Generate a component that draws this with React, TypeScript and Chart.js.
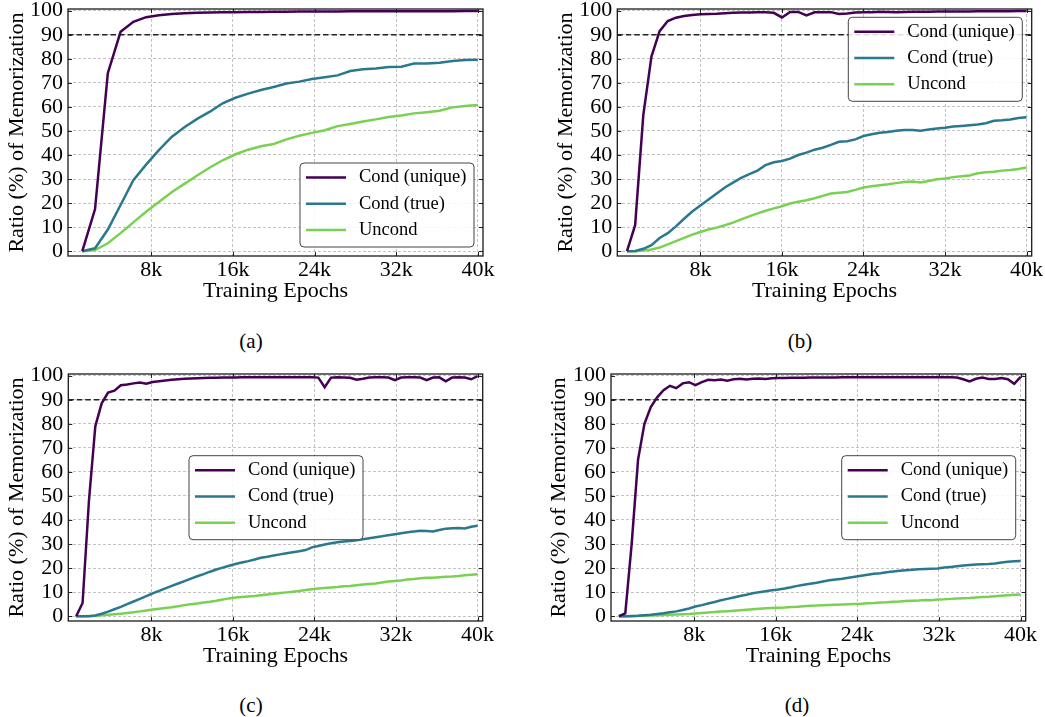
import React, { useEffect, useRef } from 'react';
import { Chart, registerables } from 'chart.js';

Chart.register(...registerables);

const FONT = "'Liberation Serif', 'Times New Roman', serif";

const SERIES_LABELS = ['Cond (unique)', 'Cond (true)', 'Uncond'];
const SERIES_COLORS = ['#440154', '#2a788e', '#7ad151'];

const X_TICKS = [8000, 16000, 24000, 32000, 40000];
const X_TICK_LABELS = ['8k', '16k', '24k', '32k', '40k'];
const Y_TICKS = [0, 10, 20, 30, 40, 50, 60, 70, 80, 90, 100];
const THRESHOLD = 90;
const X_TITLE = 'Training Epochs';
const Y_TITLE = 'Ratio (%) of Memorization';

// ---------- (a) ----------
const EPOCHS_A = [1250, 2500, 3750, 5000, 6250, 7500, 8750, 10000, 11250, 12500, 13750, 15000, 16250, 17500, 18750, 20000,
  21250, 22500, 23750, 25000, 26250, 27500, 28750, 30000, 31250, 32500, 33750, 35000, 36250, 37500, 38750, 40000];
const UNIQUE_A = [0, 17.5, 74, 91.2, 95.4, 97.3, 98.1, 98.6, 98.9, 99.1, 99.2, 99.3, 99.4, 99.5, 99.5, 99.6,
  99.6, 99.7, 99.7, 99.7, 99.7, 99.8, 99.8, 99.8, 99.8, 99.8, 99.8, 99.8, 99.8, 99.8, 99.9, 99.9];
const TRUE_A = [0, 1.2, 9, 19.2, 29.5, 36, 42, 47.5, 51.5, 55, 58, 61.5, 63.8, 65.5, 67, 68.3,
  69.7, 70.5, 71.6, 72.3, 73.1, 74.9, 75.6, 76, 76.6, 76.7, 78, 78, 78.4, 79.1, 79.5, 79.6];
const UNCOND_A = [0, 0.5, 3.3, 7.5, 12, 16.4, 20.5, 24.5, 28, 31.5, 34.8, 37.8, 40.3, 42.2, 43.6, 44.6,
  46.5, 48, 49.2, 50.3, 52, 52.9, 53.9, 54.8, 55.8, 56.4, 57.3, 57.8, 58.4, 59.8, 60.4, 60.8];

// ---------- (b) ----------
const EPOCHS_B = [800, 1600, 2400, 3200, 4000, 4800, 5600, 6400, 7200, 8000, 8800, 9600, 10400, 11200, 12000, 12800, 13600,
  14400, 15200, 16000, 16800, 17600, 18400, 19200, 20000, 20800, 21600, 22400, 23200, 24000, 24800, 25600, 26400, 27200,
  28000, 28800, 29600, 30400, 31200, 32000, 32800, 33600, 34400, 35200, 36000, 36800, 37600, 38400, 39200, 40000];
const UNIQUE_B = [0, 10.8, 56.6, 80.9, 91.5, 95.7, 97.1, 97.8, 98.2, 98.5,
  98.6, 98.7, 98.9, 99.1, 99.2, 99.2, 99.3, 99.3, 99.1, 97.2,
  99.5, 99.5, 98, 99.3, 99.4, 99.4, 98.6, 98.8, 99.2, 99.3,
  99.4, 99.6, 99.5, 99.3, 99.5, 99.6, 99.6, 99.6, 99.7, 99.7,
  99.7, 99.7, 99.7, 99.8, 99.8, 99.8, 99.8, 99.8, 99.9, 99.9];
const TRUE_B = [0, 0.1, 1, 2.5, 5.5, 7.5, 10.3, 13.5, 16.5, 19,
  21.5, 24, 26.5, 28.5, 30.5, 32, 33.5, 35.8, 37, 37.5,
  38.5, 40, 41, 42.2, 43, 44.2, 45.5, 45.7, 46.5, 47.9,
  48.6, 49.2, 49.6, 50.1, 50.4, 50.4, 50.1, 50.6, 51, 51.3,
  51.8, 52.1, 52.4, 52.7, 53.2, 54.2, 54.4, 54.8, 55.4, 55.7];
const UNCOND_B = [0, 0, 0.3, 0.7, 1.5, 2.8, 4.2, 5.5, 6.9, 8,
  9, 9.8, 10.8, 11.9, 13.2, 14.5, 15.7, 16.8, 17.8, 18.7,
  19.8, 20.6, 21.2, 22, 23, 24, 24.3, 24.6, 25.5, 26.5,
  27, 27.4, 27.8, 28.3, 28.8, 29, 28.6, 29.2, 29.9, 30.2,
  30.8, 31.2, 31.5, 32.4, 32.8, 33, 33.5, 33.8, 34.2, 34.8];

// ---------- (c) and (d) share the epoch grid ----------
const EPOCHS_CD = [625, 1250, 1875, 2500, 3125, 3750, 4375, 5000, 5625, 6250, 6875, 7500, 8125, 8750, 9375, 10000,
  10625, 11250, 11875, 12500, 13125, 13750, 14375, 15000, 15625, 16250, 16875, 17500, 18125, 18750, 19375, 20000,
  20625, 21250, 21875, 22500, 23125, 23750, 24375, 25000, 25625, 26250, 26875, 27500, 28125, 28750, 29375, 30000,
  30625, 31250, 31875, 32500, 33125, 33750, 34375, 35000, 35625, 36250, 36875, 37500, 38125, 38750, 39375, 40000];

const UNIQUE_C = [0, 5.5, 48, 79, 88.5, 93, 93.8, 96, 96.3, 96.8,
  97.2, 96.7, 97.4, 97.7, 98, 98.3, 98.5, 98.7, 98.8, 98.9,
  99, 99.1, 99.1, 99.2, 99.2, 99.2, 99.3, 99.3, 99.3, 99.3,
  99.3, 99.3, 99.3, 99.3, 99.3, 99.3, 99.3, 99.3, 99.2, 95.2,
  99.2, 99.3, 99.2, 99.1, 98.3, 98.7, 99.2, 99.3, 99.3, 99.2,
  98.1, 99.2, 99.3, 99.3, 99.2, 98.1, 99.2, 99.3, 97.7, 99.2,
  99.3, 99.2, 98.5, 99.8];
const TRUE_C = [0, 0, 0, 0.3, 1.0, 1.9, 2.9, 3.9, 5.0, 6.1,
  7.2, 8.3, 9.5, 10.5, 11.6, 12.6, 13.6, 14.6, 15.6, 16.6,
  17.5, 18.5, 19.4, 20.2, 21.0, 21.7, 22.3, 22.9, 23.6, 24.3,
  24.7, 25.2, 25.7, 26.2, 26.6, 27.0, 27.5, 28.6, 29.2, 29.8,
  30.3, 30.7, 31.1, 31.3, 31.6, 32.0, 32.4, 32.8, 33.2, 33.7,
  34.1, 34.5, 34.9, 35.2, 35.5, 35.4, 35.2, 35.8, 36.4, 36.6,
  36.7, 36.5, 37.2, 37.6];
const UNCOND_C = [0, 0, 0.1, 0.2, 0.4, 0.6, 0.8, 1.0, 1.3, 1.6,
  2.0, 2.4, 2.8, 3.1, 3.4, 3.7, 4.1, 4.6, 5.0, 5.3,
  5.7, 6.0, 6.4, 6.9, 7.4, 7.8, 8.0, 8.2, 8.4, 8.7,
  9.0, 9.3, 9.6, 9.9, 10.2, 10.5, 10.9, 11.2, 11.5, 11.7,
  11.9, 12.1, 12.4, 12.6, 12.9, 13.2, 13.4, 13.6, 14.0, 14.4,
  14.6, 14.8, 15.3, 15.5, 15.8, 16.0, 16.0, 16.2, 16.4, 16.5,
  16.7, 17.0, 17.2, 17.4];

const UNIQUE_D = [0, 1.2, 30, 65, 80, 87, 91, 94, 95.8, 94.8,
  96.8, 97.3, 96.1, 97.3, 98.3, 98.1, 98.4, 97.9, 98.5, 98.7,
  98.4, 98.7, 98.8, 98.6, 98.9, 99, 99, 99.1, 99.1, 99.1,
  99.2, 99.2, 99.2, 99.2, 99.2, 99.3, 99.3, 99.3, 99.3, 99.3,
  99.3, 99.3, 99.3, 99.3, 99.3, 99.3, 99.3, 99.3, 99.3, 99.3,
  99.3, 99.3, 99.3, 99.2, 98.5, 97.6, 98.7, 99.2, 98.6, 98.6,
  99, 98.5, 96.6, 99.5];
const TRUE_D = [0, 0, 0.1, 0.2, 0.4, 0.6, 0.9, 1.2, 1.6, 2.0,
  2.6, 3.2, 4.0, 4.6, 5.3, 5.9, 6.6, 7.2, 7.8, 8.4,
  8.9, 9.5, 10.0, 10.4, 10.8, 11.1, 11.5, 12.0, 12.6, 13.1,
  13.5, 13.9, 14.4, 14.9, 15.3, 15.6, 16.0, 16.4, 16.8, 17.2,
  17.6, 17.9, 18.3, 18.6, 18.9, 19.1, 19.3, 19.5, 19.6, 19.7,
  19.8, 20.2, 20.5, 20.8, 21.1, 21.3, 21.5, 21.6, 21.7, 21.9,
  22.3, 22.6, 22.8, 22.9];
const UNCOND_D = [0, 0, 0, 0.1, 0.2, 0.3, 0.4, 0.5, 0.6, 0.7,
  0.8, 0.9, 1.1, 1.3, 1.5, 1.7, 1.9, 2.1, 2.3, 2.5,
  2.7, 2.9, 3.1, 3.3, 3.4, 3.5, 3.6, 3.8, 3.9, 4.1,
  4.3, 4.4, 4.6, 4.7, 4.8, 4.9, 5.0, 5.1, 5.2, 5.4,
  5.5, 5.7, 5.8, 6.0, 6.1, 6.3, 6.4, 6.5, 6.7, 6.6,
  6.9, 7.0, 7.2, 7.4, 7.5, 7.6, 7.8, 8.0, 8.1, 8.3,
  8.5, 8.7, 8.9, 9.0];

type Panel = {
  caption: string;
  epochs: number[];
  series: number[][];
  canvas: { left: number; top: number; w: number; h: number };
  pad: { left: number; right: number; top: number; bottom: number };
  yW: number;
  legend: { x: number; y: number };
  cap: { x: number; y: number };
};

const PANELS: Panel[] = [
  {
    caption: '(a)', epochs: EPOCHS_A, series: [UNIQUE_A, TRUE_A, UNCOND_A],
    canvas: { left: 0, top: 0, w: 520, h: 320 }, pad: { left: 4, right: 37, top: 9, bottom: 14 }, yW: 64,
    legend: { x: 232, y: 154 }, cap: { x: 251, y: 341 },
  },
  {
    caption: '(b)', epochs: EPOCHS_B, series: [UNIQUE_B, TRUE_B, UNCOND_B],
    canvas: { left: 520, top: 0, w: 525, h: 320 }, pad: { left: 33, right: 13.3, top: 9, bottom: 14 }, yW: 64.3,
    legend: { x: 231, y: 8.3 }, cap: { x: 800, y: 341 },
  },
  {
    caption: '(c)', epochs: EPOCHS_CD, series: [UNIQUE_C, TRUE_C, UNCOND_C],
    canvas: { left: 0, top: 365, w: 520, h: 320 }, pad: { left: 4, right: 37.3, top: 9, bottom: 14 }, yW: 64.3,
    legend: { x: 120.7, y: 81.7 }, cap: { x: 251, y: 705 },
  },
  {
    caption: '(d)', epochs: EPOCHS_CD, series: [UNIQUE_D, TRUE_D, UNCOND_D],
    canvas: { left: 520, top: 365, w: 525, h: 320 }, pad: { left: 26, right: 19.3, top: 9, bottom: 14 }, yW: 65,
    legend: { x: 230.7, y: 81.7 }, cap: { x: 797, y: 705 },
  },
];

const LEGEND_W = 174;
const LEGEND_H = 84;
const LEGEND_ROWS = [14.5, 40.8, 67];

const decorPlugin = {
  id: 'decor',
  afterDatasetsDraw(chart: any, _args: any, opts: any) {
    const { ctx, chartArea } = chart;
    const { left, right, top, bottom } = chartArea;
    const ys = chart.scales.y;
    const xs = chart.scales.x;
    ctx.save();
    // threshold line
    const ty = ys.getPixelForValue(THRESHOLD);
    ctx.strokeStyle = '#222';
    ctx.lineWidth = 1.5;
    ctx.setLineDash([5.5, 3]);
    ctx.beginPath();
    ctx.moveTo(left, ty);
    ctx.lineTo(right, ty);
    ctx.stroke();
    ctx.setLineDash([]);
    // inward ticks
    ctx.strokeStyle = '#222';
    ctx.lineWidth = 1;
    ctx.beginPath();
    Y_TICKS.forEach((v) => {
      const p = Math.round(ys.getPixelForValue(v)) + 0.5;
      ctx.moveTo(left, p); ctx.lineTo(left + 4, p);
      ctx.moveTo(right, p); ctx.lineTo(right - 4, p);
    });
    X_TICKS.forEach((v) => {
      const p = Math.round(xs.getPixelForValue(v)) + 0.5;
      ctx.moveTo(p, bottom); ctx.lineTo(p, bottom - 4);
      ctx.moveTo(p, top); ctx.lineTo(p, top + 4);
    });
    ctx.stroke();
    // frame
    ctx.strokeStyle = '#1a1a1a';
    ctx.lineWidth = 1.3;
    ctx.strokeRect(left, top, right - left, bottom - top);
    // legend
    const lx = left + opts.x;
    const ly = top + opts.y;
    const r = 4;
    ctx.beginPath();
    ctx.moveTo(lx + r, ly);
    ctx.lineTo(lx + LEGEND_W - r, ly);
    ctx.arcTo(lx + LEGEND_W, ly, lx + LEGEND_W, ly + r, r);
    ctx.lineTo(lx + LEGEND_W, ly + LEGEND_H - r);
    ctx.arcTo(lx + LEGEND_W, ly + LEGEND_H, lx + LEGEND_W - r, ly + LEGEND_H, r);
    ctx.lineTo(lx + r, ly + LEGEND_H);
    ctx.arcTo(lx, ly + LEGEND_H, lx, ly + LEGEND_H - r, r);
    ctx.lineTo(lx, ly + r);
    ctx.arcTo(lx, ly, lx + r, ly, r);
    ctx.closePath();
    ctx.fillStyle = 'rgba(255,255,255,0.85)';
    ctx.fill();
    ctx.strokeStyle = '#444';
    ctx.lineWidth = 1;
    ctx.stroke();
    chart.data.datasets.forEach((ds: any, i: number) => {
      const cy = ly + LEGEND_ROWS[i];
      ctx.strokeStyle = ds.borderColor;
      ctx.lineWidth = 2.5;
      ctx.beginPath();
      ctx.moveTo(lx + 6, cy);
      ctx.lineTo(lx + 46, cy);
      ctx.stroke();
      ctx.fillStyle = '#000';
      ctx.font = `18.5px ${FONT}`;
      ctx.textAlign = 'left';
      ctx.textBaseline = 'middle';
      ctx.fillText(ds.label, lx + 59, cy);
    });
    ctx.restore();
  },
};

function PanelChart({ panel }: { panel: Panel }) {
  const ref = useRef<HTMLCanvasElement | null>(null);
  useEffect(() => {
    if (!ref.current) return;
    const tickFont = { family: FONT, size: 22 };
    const chart = new Chart(ref.current, {
      type: 'line',
      data: {
        datasets: panel.series.map((vals, i) => ({
          label: SERIES_LABELS[i],
          data: panel.epochs.map((e, j) => ({ x: e, y: vals[j] })),
          borderColor: SERIES_COLORS[i],
          backgroundColor: SERIES_COLORS[i],
          borderWidth: 2.5,
          pointRadius: 0,
          tension: 0,
          fill: false,
        })),
      },
      options: {
        responsive: false,
        animation: false,
        events: [],
        layout: { padding: panel.pad },
        plugins: {
          legend: { display: false },
          tooltip: { enabled: false },
          decor: panel.legend,
        } as any,
        scales: {
          x: {
            type: 'linear',
            min: -150,
            max: 40500,
            afterBuildTicks: (s: any) => { s.ticks = X_TICKS.map((v) => ({ value: v })); },
            afterFit: (s: any) => { s.height = 50; s.paddingLeft = 0; s.paddingRight = 0; },
            ticks: {
              font: tickFont, color: '#000', padding: 1, maxRotation: 0, autoSkip: false,
              callback: (_v: any, i: number) => X_TICK_LABELS[i],
            },
            grid: { color: '#b4b4b4', lineWidth: 0.8, drawTicks: false },
            border: { display: false, dash: [3, 2] },
            title: { display: true, text: X_TITLE, font: tickFont, color: '#000', padding: { top: 0, bottom: 1.5 } },
          },
          y: {
            type: 'linear',
            min: -2,
            max: 100.7,
            afterBuildTicks: (s: any) => { s.ticks = Y_TICKS.map((v) => ({ value: v })); },
            afterFit: (s: any) => { s.width = panel.yW; s.paddingTop = 0; s.paddingBottom = 0; },
            ticks: { font: tickFont, color: '#000', padding: 5, autoSkip: false, callback: (v: any) => String(v) },
            grid: { color: '#b4b4b4', lineWidth: 0.8, drawTicks: false },
            border: { display: false, dash: [3, 2] },
            title: { display: true, text: Y_TITLE, font: tickFont, color: '#000', padding: { top: 0, bottom: 0 } },
          },
        },
      } as any,
      plugins: [decorPlugin],
    });
    return () => chart.destroy();
  }, [panel]);
  return (
    <canvas
      ref={ref}
      width={panel.canvas.w}
      height={panel.canvas.h}
      style={{ position: 'absolute', left: panel.canvas.left, top: panel.canvas.top, width: panel.canvas.w, height: panel.canvas.h }}
    />
  );
}

export default function App() {
  return (
    <div style={{ position: 'fixed', left: 0, top: 0, width: 1045, height: 717, background: '#fff', overflow: 'hidden' }}>
      {PANELS.map((p) => (
        <React.Fragment key={p.caption}>
          <PanelChart panel={p} />
          <div
            style={{
              position: 'absolute', left: p.cap.x - 30, top: p.cap.y - 12, width: 60, height: 24,
              lineHeight: '24px', textAlign: 'center', fontFamily: FONT, fontSize: 21, color: '#000',
            }}
          >
            {p.caption}
          </div>
        </React.Fragment>
      ))}
    </div>
  );
}
